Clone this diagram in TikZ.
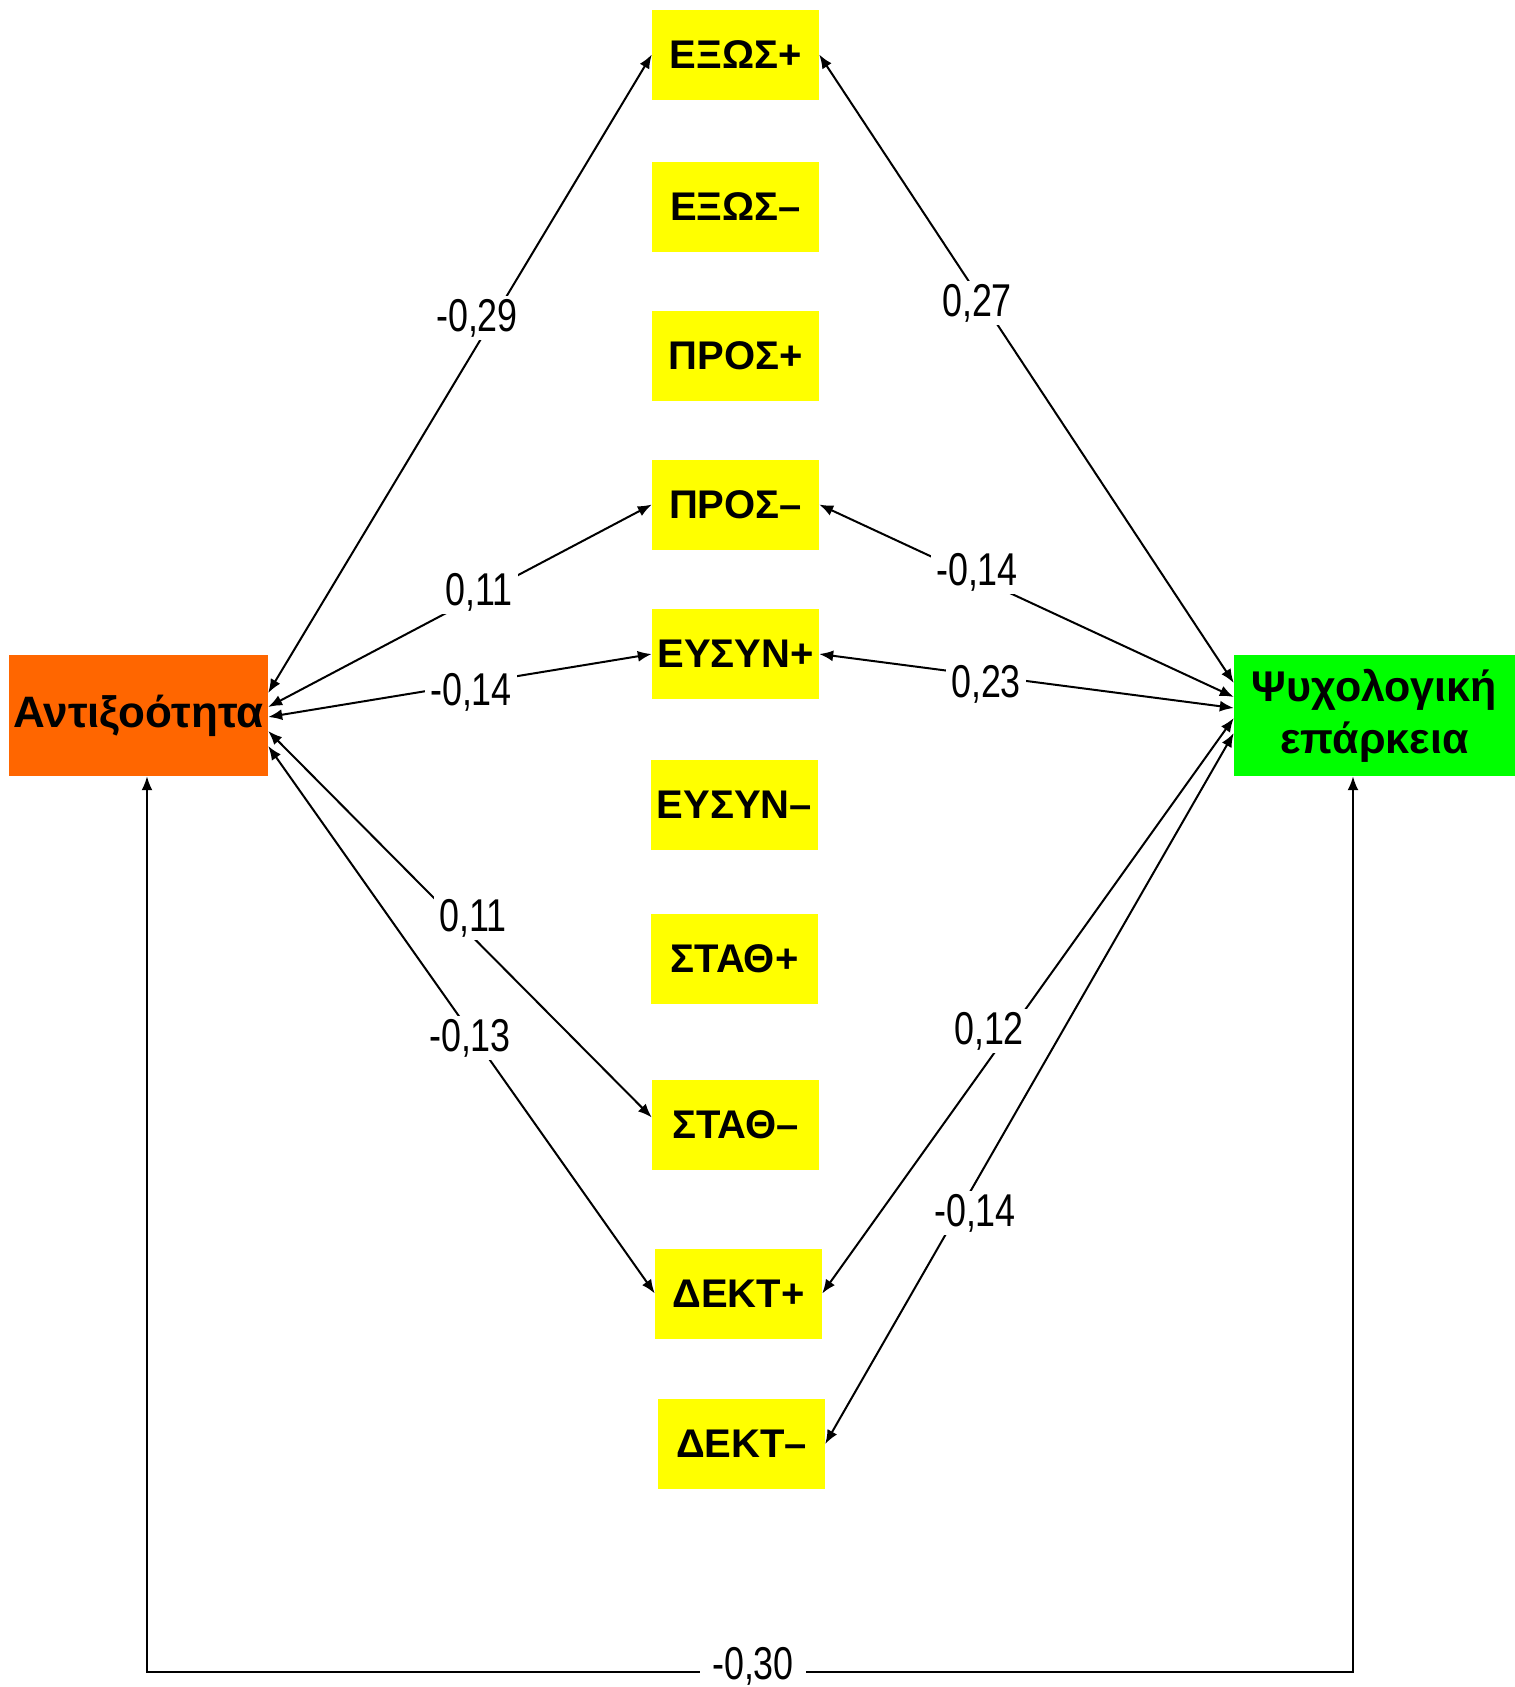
\documentclass[tikz,border=0pt]{standalone}
\usepackage{fontspec}
\setmainfont{Liberation Sans}
\newfontfamily\lblfont[FakeStretch=0.78]{Liberation Sans}
\usetikzlibrary{arrows.meta,calc}
\definecolor{boxyellow}{HTML}{FFFF00}
\definecolor{boxorange}{HTML}{FF6600}
\definecolor{boxgreen}{HTML}{00FF00}
\tikzset{
  ybox/.style={fill=boxyellow, minimum width=167pt, minimum height=90pt, inner sep=0pt,
    font=\fontsize{40}{46}\selectfont\bfseries},
  arr/.style={line width=2pt, {Latex[length=14pt,width=11pt]}-{Latex[length=14pt,width=11pt]}},
  lbl/.style={fill=white, inner ysep=3pt, inner xsep=5pt, font=\fontsize{46}{50}\selectfont\lblfont}
}
\begin{document}
\begin{tikzpicture}[x=1pt,y=-1pt]
\useasboundingbox (0,0) rectangle (1515,1687);
% main nodes
\node[fill=boxorange, minimum width=259pt, minimum height=121pt, inner sep=0pt,
  font=\fontsize{44}{50}\selectfont\bfseries] (anti) at (138.5,715.5) {Αντιξοότητα};
\node[fill=boxgreen, minimum width=281pt, minimum height=121pt, inner sep=0pt, align=center,
  font=\fontsize{43}{52}\selectfont\bfseries] (psy) at (1374.5,715.5) {Ψυχολογική\\επάρκεια};
% yellow boxes
\node[ybox] (exop) at (735.5,54.5) {ΕΞΩΣ+};
\node[ybox] (exom) at (735.5,206.5) {ΕΞΩΣ–};
\node[ybox] (prop) at (735.5,356) {ΠΡΟΣ+};
\node[ybox] (prom) at (735.5,504.5) {ΠΡΟΣ–};
\node[ybox] (eysp) at (735.5,654) {ΕΥΣΥΝ+};
\node[ybox] (eysm) at (734.5,804.5) {ΕΥΣΥΝ–};
\node[ybox] (stap) at (734.5,959) {ΣΤΑΘ+};
\node[ybox] (stam) at (735.5,1124.5) {ΣΤΑΘ–};
\node[ybox] (dekp) at (738.5,1293.5) {ΔΕΚΤ+};
\node[ybox] (dekm) at (741.5,1444) {ΔΕΚΤ–};
% connectors from Antixootita
\draw[arr] ([yshift=22.5pt]anti.east) -- (exop.west);
\draw[arr] ([yshift=8.5pt]anti.east) -- (prom.west);
\draw[arr] ([yshift=-1.5pt]anti.east) -- (eysp.west);
\draw[arr] ([yshift=-15.5pt]anti.east) -- ([yshift=7pt]stam.west);
\draw[arr] ([yshift=-30.5pt]anti.east) -- (dekp.west);
% connectors to Psychologiki
\draw[arr] (exop.east) -- ([yshift=32.5pt]psy.west);
\draw[arr] (prom.east) -- ([yshift=18.5pt]psy.west);
\draw[arr] (eysp.east) -- ([yshift=7.5pt]psy.west);
\draw[arr] (dekp.east) -- ([yshift=-2.5pt]psy.west);
\draw[arr] (dekm.east) -- ([yshift=-17.5pt]psy.west);
% bottom connector
\coordinate (bl) at (147,1672);
\coordinate (br) at (1353,1672);
\draw[arr] (anti.south -| bl) -- (bl) -- (br) -- (psy.south -| br);
% labels
\node[lbl] (l1) at (477,318) {-0,29};
\node[lbl] (l2) at (977,303) {0,27};
\node[lbl] (l3) at (479,592) {0,11};
\node[lbl] (l4) at (471,692) {-0,14};
\node[lbl] (l5) at (977,572) {-0,14};
\node[lbl] (l6) at (986,684) {0,23};
\node[lbl] (l7) at (473,918) {0,11};
\node[lbl] (l8) at (470,1038) {-0,13};
\node[lbl] (l9) at (989,1031) {0,12};
\node[lbl] (l10) at (975,1213) {-0,14};
\node[lbl, inner xsep=12pt, inner ysep=1pt] (l11) at (753,1666) {-0,30};
\end{tikzpicture}
\end{document}
